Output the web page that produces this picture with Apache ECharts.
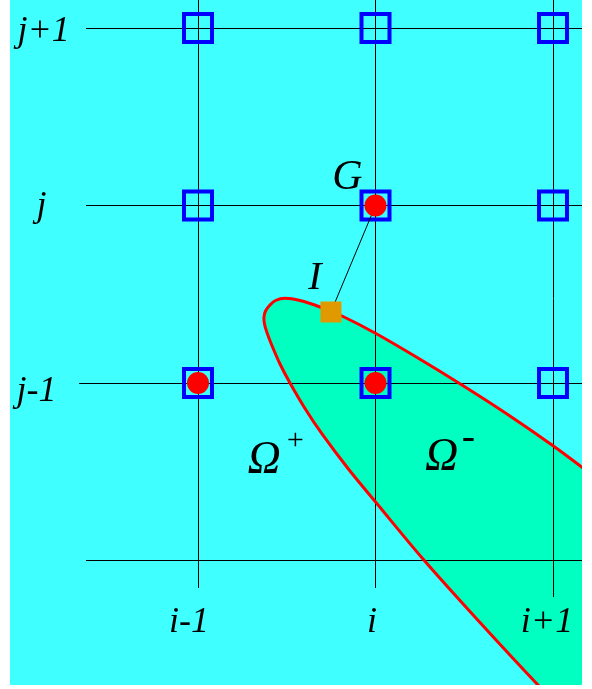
<!DOCTYPE html>
<html><head><meta charset="utf-8">
<script src="https://cdn.jsdelivr.net/npm/echarts@6/dist/echarts.min.js"></script>
<style>html,body{margin:0;padding:0;background:#fff;}#c{width:592px;height:689px;}</style>
</head><body><div id="c"></div>
<script>
// ---------- data (grid-index units: i-1 -> 0, i -> 1, i+1 -> 2 ; j-1 -> 0, j -> 1, j+1 -> 2) ----------
const xTicks = [0, 1, 2];
const xTickLabels = ['i-1', 'i', 'i+1'];
const yTicks = [0, 1, 2];
const yTickLabels = ['j-1', 'j', 'j+1'];
const hLines = [-1, 0, 1, 2];
const vLines = [0, 1, 2];
const redDots = [[1, 1], [0, 0], [1, 0]];
const interfacePoint = [0.749, 0.400];
const ghostPoint = [1, 1];
// interface (red curve), closed through points outside the view
const boundary = [
  [2.1690, -0.4789], [1.9944, -0.3493], [1.7408, -0.1746], [1.4873, -0.0113], [1.2394, 0.1408],
  [0.9972, 0.2817], [0.8113, 0.3775], [0.6873, 0.4282], [0.5746, 0.4648], [0.4901, 0.4772],
  [0.4366, 0.4648], [0.4028, 0.4366], [0.3803, 0.4056], [0.3718, 0.3718], [0.3746, 0.3324],
  [0.3870, 0.2890], [0.4152, 0.2141], [0.4620, 0.1070], [0.5183, 0.0000], [0.6028, -0.1437],
  [0.6986, -0.2873], [0.8451, -0.4817], [1.0028, -0.6732], [1.2676, -0.9915], [1.5887, -1.3493],
  [1.9155, -1.7014], [2.2648, -2.0620], [2.8282, -2.4620], [3.3915, -1.6732], [2.6028, -0.8113],
  [2.3775, -0.6366]
];
const annotations = ['G', 'I', 'Ω', '+', 'Ω', '-'];

// ---------- layout / style ----------
const PX0 = 198, PY0 = 383, UNIT = 177.5;
const GRID = { left: 10, top: 0, width: 572, height: 685 };
const xMin = (GRID.left - PX0) / UNIT, xMax = (GRID.left + GRID.width - PX0) / UNIT;
const yMax = (PY0 - GRID.top) / UNIT, yMin = (PY0 - GRID.top - GRID.height) / UNIT;
const hLineStart = { '-1': -0.631, '0': -0.670, '1': -0.631, '2': -0.631 };
const vLineEnd = { '0': -1.155, '1': -1.155, '2': -1.206 };
const bottomLabelY = -1.351, leftLabelX = -0.890;
const bottomLabelOffset = [[-9, 0], [-3.5, 0], [-6, 0]];
const leftLabelOffset = [[-3.5, 8.4], [1.5, 0.9], [3.5, 3.4]];
const annLayout = [
  { pos: [0.842, 1.156], size: 42 },
  { pos: [0.659, 0.589], size: 40 },
  { pos: [0.372, -0.441], size: 46 },
  { pos: [0.547, -0.328], size: 30 },
  { pos: [1.372, -0.421], size: 46 },
  { pos: [1.524, -0.310], size: 40 }
];
const FONT = 'Liberation Serif, Times New Roman, serif';

// ---------- build ----------
const gridSegs = [];
hLines.forEach(y => gridSegs.push({ coords: [[hLineStart[String(y)], y], [xMax, y]] }));
vLines.forEach(x => gridSegs.push({ coords: [[x, yMax], [x, vLineEnd[String(x)]]] }));
const squares = [];
xTicks.forEach(x => yTicks.forEach(y => squares.push([x, y])));

const labelData = [];
xTicks.forEach((x, k) => labelData.push({ value: [x, bottomLabelY], name: xTickLabels[k],
  label: { fontSize: 36, offset: bottomLabelOffset[k] } }));
yTicks.forEach((y, k) => labelData.push({ value: [leftLabelX, y], name: yTickLabels[k],
  label: { fontSize: 36, offset: leftLabelOffset[k] } }));
annotations.forEach((t, k) => labelData.push({ value: annLayout[k].pos, name: t,
  label: { fontSize: annLayout[k].size } }));

function polyItem(fill, stroke, lw) {
  return function (params, api) {
    const cs = params.coordSys;
    return {
      type: 'group',
      clipPath: { type: 'rect', shape: { x: cs.x, y: cs.y, width: cs.width, height: cs.height } },
      children: [{
        type: 'polygon',
        shape: { points: boundary.map(p => api.coord(p)), smooth: 0.35 },
        style: { fill: fill, stroke: stroke, lineWidth: lw }
      }]
    };
  };
}

const chart = echarts.init(document.getElementById('c'), null, { renderer: 'canvas' });
chart.setOption({
  animation: false,
  backgroundColor: '#ffffff',
  grid: Object.assign({ show: true, backgroundColor: '#40FFFF', borderWidth: 0 }, GRID),
  xAxis: { type: 'value', min: xMin, max: xMax, show: false, splitLine: { show: false } },
  yAxis: { type: 'value', min: yMin, max: yMax, show: false, splitLine: { show: false } },
  series: [
    { type: 'custom', z: 1, silent: true, clip: true, data: [[0, 0]],
      renderItem: polyItem('#00FFC0', null, 0) },
    { type: 'lines', coordinateSystem: 'cartesian2d', z: 2, silent: true, polyline: false,
      lineStyle: { color: '#000000', width: 1, opacity: 1, curveness: 0 }, data: gridSegs },
    { type: 'custom', z: 3, silent: true, clip: true, data: [[0, 0]],
      renderItem: polyItem(null, '#FF0000', 3) },
    { type: 'scatter', z: 4, silent: true, symbol: 'rect', symbolSize: 28, data: squares,
      itemStyle: { color: 'rgba(0,0,0,0)', borderColor: '#0000FF', borderWidth: 4, opacity: 1 } },
    { type: 'lines', coordinateSystem: 'cartesian2d', z: 5, silent: true,
      lineStyle: { color: '#000000', width: 1, opacity: 1, curveness: 0 },
      data: [{ coords: [ghostPoint, interfacePoint] }] },
    { type: 'scatter', z: 6, silent: true, symbol: 'circle', symbolSize: 22, data: redDots,
      itemStyle: { color: '#FF0000', opacity: 1 } },
    { type: 'scatter', z: 7, silent: true, symbol: 'rect', symbolSize: 21, data: [interfacePoint],
      itemStyle: { color: '#E09A00', opacity: 1 } },
    { type: 'scatter', z: 8, silent: true, symbolSize: 1, data: labelData,
      itemStyle: { color: 'rgba(0,0,0,0)', opacity: 1 },
      label: { show: true, position: 'inside', formatter: p => p.name, color: '#000000', opacity: 1,
        fontFamily: FONT, fontStyle: 'italic', align: 'center', verticalAlign: 'middle',
        textBorderWidth: 0 } }
  ]
});
</script></body></html>
